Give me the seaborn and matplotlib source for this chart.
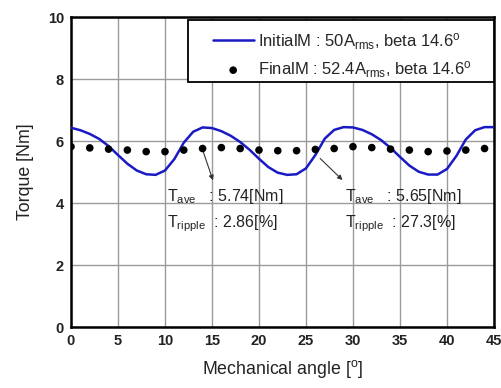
import matplotlib
matplotlib.use("Agg")
import matplotlib.pyplot as plt
from matplotlib.patches import Rectangle
import seaborn as sns
import pandas as pd

# Data
initial_angle = list(range(0, 46))
initial_torque = [6.43, 6.35, 6.23, 6.07, 5.84, 5.55, 5.27, 5.05, 4.93, 4.91, 5.05, 5.42, 5.95, 6.30, 6.44,
                  6.42, 6.32, 6.17, 5.97, 5.72, 5.43, 5.16, 4.98, 4.91, 4.93, 5.12, 5.55, 6.08, 6.36, 6.45,
                  6.44, 6.36, 6.22, 6.03, 5.78, 5.49, 5.21, 5.01, 4.92, 4.92, 5.10, 5.52, 6.05, 6.35, 6.45, 6.45]
final_angle = list(range(0, 45, 2))
final_torque = [5.82, 5.78, 5.74, 5.71, 5.66, 5.66, 5.71, 5.76, 5.79, 5.76, 5.71, 5.69,
                5.69, 5.73, 5.76, 5.82, 5.79, 5.74, 5.71, 5.66, 5.68, 5.71, 5.76]
x_ticks = [0, 5, 10, 15, 20, 25, 30, 35, 40, 45]
y_ticks = [0, 2, 4, 6, 8, 10]

sns.set_style("white")
plt.rcParams['font.family'] = ['Liberation Sans', 'DejaVu Sans']
plt.rcParams['mathtext.fontset'] = 'custom'
plt.rcParams['mathtext.rm'] = 'Liberation Sans'
plt.rcParams['mathtext.it'] = 'Liberation Sans'

fig = plt.figure(figsize=(5.02, 3.88), dpi=100)
ax = fig.add_axes([0.1414, 0.157, 0.8426, 0.799])

df_i = pd.DataFrame({"angle": initial_angle, "torque": initial_torque})
df_f = pd.DataFrame({"angle": final_angle, "torque": final_torque})

sns.lineplot(data=df_i, x="angle", y="torque", ax=ax, color="#1a1ac4", lw=1.8,
             label=r"InitialM : 50A$_{\mathregular{rms}}$, beta 14.6$^{\mathregular{o}}$", zorder=3)
sns.scatterplot(data=df_f, x="angle", y="torque", ax=ax, color="black", s=30, edgecolor="none",
                label=r"FinalM : 52.4A$_{\mathregular{rms}}$, beta 14.6$^{\mathregular{o}}$", zorder=4)

ax.set_xlim(0, 45)
ax.set_ylim(0, 10)
ax.set_xticks(x_ticks)
ax.set_yticks(y_ticks)
ax.grid(True, color="#9a9a9a", lw=1.0)
ax.set_axisbelow(True)
for s in ax.spines.values():
    s.set_color("black")
    s.set_linewidth(1.8)
ax.tick_params(direction="in", length=4, width=1.5, colors="black", labelsize=10.5, pad=5)
for lab in ax.get_xticklabels() + ax.get_yticklabels():
    lab.set_fontweight("bold")
    lab.set_color("#222222")
ax.set_xlabel(r"Mechanical angle [$^{\mathregular{o}}$]", fontsize=12.8, labelpad=7, color="#222222")
ax.set_ylabel("Torque [Nm]", fontsize=12.8, labelpad=10, color="#222222")

# Legend (frameless) plus its box
leg = ax.legend(loc="upper left", bbox_to_anchor=(0.335, 0.955), frameon=False, fontsize=12,
                borderaxespad=0.0, borderpad=0.0, handlelength=2.46, handletextpad=0.25,
                labelspacing=0.45)
ax.add_patch(Rectangle((0.2766, 0.790), 0.7234, 0.200, transform=ax.transAxes,
                       facecolor="white", edgecolor="black", lw=1.3, zorder=5))
leg.set_zorder(6)

# Annotations
ax.annotate("", xy=(15.2, 4.65), xytext=(14.0, 5.72),
            arrowprops=dict(arrowstyle="-|>", color="#333333", lw=0.8, mutation_scale=7))
ax.annotate("", xy=(29.1, 4.68), xytext=(26.3, 5.5),
            arrowprops=dict(arrowstyle="-|>", color="#333333", lw=0.8, mutation_scale=7))
ax.text(10.2, 4.2, r"T$_{\mathregular{ave}}$   : 5.74[Nm]", fontsize=11.5, va="center", color="#222222")
ax.text(10.2, 3.35, r"T$_{\mathregular{ripple}}$  : 2.86[%]", fontsize=11.5, va="center", color="#222222")
ax.text(29.2, 4.2, r"T$_{\mathregular{ave}}$   : 5.65[Nm]", fontsize=11.5, va="center", color="#222222")
ax.text(29.2, 3.35, r"T$_{\mathregular{ripple}}$  : 27.3[%]", fontsize=11.5, va="center", color="#222222")

fig.savefig("out.png", dpi=100)
